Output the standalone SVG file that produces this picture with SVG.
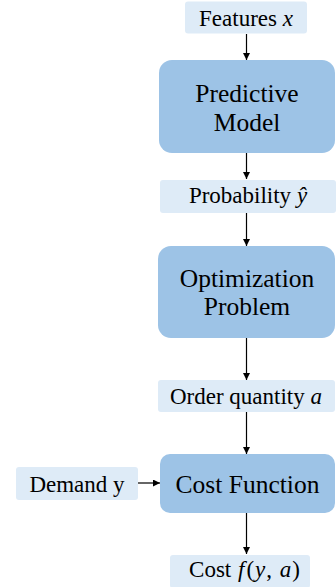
<svg xmlns="http://www.w3.org/2000/svg" width="336" height="587" viewBox="0 0 336 587">
<defs>
<style>
.big{fill:#9DC3E6;}
.small{fill:#DEEBF7;}
.t{font-family:'Liberation Serif','Times New Roman',serif;fill:#000;text-anchor:middle;}
.tb{font-size:25.5px;}
.ts{font-size:23px;}
.m{font-style:italic;}
.c{stroke:#000;stroke-width:1.2;fill:none;marker-end:url(#ah);}
</style>
<marker id="ah" viewBox="0 0 10 10" refX="10" refY="5" markerWidth="7" markerHeight="7" markerUnits="userSpaceOnUse" orient="auto">
<path d="M0,0 L10,5 L0,10 z" fill="#000"/>
</marker>
</defs>
<g id="connectors">
<line class="c" x1="246.5" y1="34" x2="246.5" y2="60"/>
<line class="c" x1="246.5" y1="153" x2="246.5" y2="179"/>
<line class="c" x1="246.5" y1="213" x2="246.5" y2="246"/>
<line class="c" x1="246.5" y1="338" x2="246.5" y2="380"/>
<line class="c" x1="246.5" y1="412" x2="246.5" y2="454"/>
<line class="c" x1="138" y1="483" x2="160" y2="483"/>
<line class="c" x1="246.5" y1="513" x2="246.5" y2="554"/>
</g>
<g id="features">
<rect class="small" x="185" y="1.5" width="122" height="32" rx="3"/>
<text class="t ts" x="246" y="26">Features <tspan class="m">x</tspan></text>
</g>
<g id="predictive-model">
<rect class="big" x="159" y="60" width="176" height="93" rx="13"/>
<text class="t tb" x="247" y="102">Predictive</text>
<text class="t tb" x="247" y="131">Model</text>
</g>
<g id="probability">
<rect class="small" x="160" y="180" width="176" height="33" rx="3"/>
<text class="t ts" x="248" y="203">Probability <tspan class="m">ŷ</tspan></text>
</g>
<g id="optimization-problem">
<rect class="big" x="158" y="246" width="177" height="92" rx="13"/>
<text class="t tb" x="247" y="287">Optimization</text>
<text class="t tb" x="247" y="315">Problem</text>
</g>
<g id="order-quantity">
<rect class="small" x="158" y="380" width="177" height="32" rx="3"/>
<text class="t ts" x="246" y="404">Order quantity <tspan class="m">a</tspan></text>
</g>
<g id="demand">
<rect class="small" x="16" y="467" width="122" height="33" rx="3"/>
<text class="t ts" x="77" y="492">Demand y</text>
</g>
<g id="cost-function">
<rect class="big" x="160" y="454" width="175" height="59" rx="10"/>
<text class="t tb" x="247.5" y="493">Cost Function</text>
</g>
<g id="cost">
<rect class="small" x="170" y="555" width="140" height="33" rx="3"/>
<text class="t ts" x="245" y="577">Cost <tspan class="m" dx="1">f</tspan><tspan dx="2" letter-spacing="1">(<tspan class="m">y</tspan>, <tspan class="m">a</tspan>)</tspan></text>
</g>
</svg>
